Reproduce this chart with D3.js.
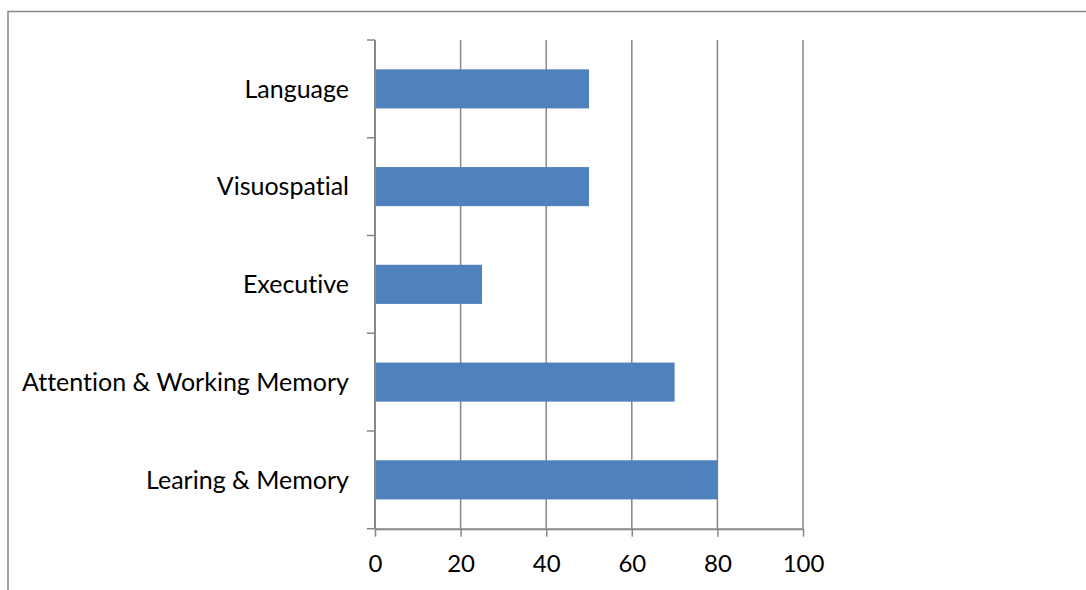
<!DOCTYPE html>
<html>
<head>
<meta charset="utf-8">
<script src="https://cdn.jsdelivr.net/npm/d3@7"></script>
<style>
  html, body { margin: 0; padding: 0; background: #fff; }
  svg { display: block; }
  text { font-family: Lato, "Open Sans", sans-serif; fill: #000; font-variant-ligatures: none; }
</style>
</head>
<body>
<script>
// Domain scores (bottom to top on the chart)
const categories = ["Learing & Memory", "Attention & Working Memory", "Executive", "Visuospatial", "Language"];
const values = [80, 70, 25, 50, 50];
const xTicks = [0, 20, 40, 60, 80, 100];

const W = 1086, H = 590;
const plot = { left: 375, right: 803, top: 40, bottom: 528.7 };
const gray = "#878787";

const svg = d3.select("body").append("svg")
  .attr("width", W).attr("height", H);

// chart frame (only its top and left edges fall inside the view)
svg.append("rect")
  .attr("x", 8).attr("y", 11.5)
  .attr("width", W + 20).attr("height", H + 20)
  .attr("fill", "none").attr("stroke", gray).attr("stroke-width", 1.5);

const x = d3.scaleLinear().domain([0, 100]).range([plot.left, plot.right]);
const y = d3.scaleBand()
  .domain(categories.slice().reverse())
  .range([plot.top, plot.bottom])
  .padding(0);

// vertical gridlines
svg.append("g").selectAll("line")
  .data(xTicks.slice(1))
  .join("line")
  .attr("x1", d => x(d)).attr("x2", d => x(d))
  .attr("y1", plot.top).attr("y2", plot.bottom)
  .attr("stroke", gray).attr("stroke-width", 1.5);

// bars: 40% of each category band, centred
const barFrac = 0.4;
svg.append("g").selectAll("rect")
  .data(categories.map((c, i) => ({ c, v: values[i] })))
  .join("rect")
  .attr("x", x(0))
  .attr("y", d => y(d.c) + y.bandwidth() * (1 - barFrac) / 2)
  .attr("width", d => x(d.v) - x(0))
  .attr("height", y.bandwidth() * barFrac)
  .attr("fill", "#4F81BD");

// x axis
const xAxis = svg.append("g")
  .attr("transform", `translate(0,${plot.bottom})`)
  .call(d3.axisBottom(x).tickValues(xTicks).tickSize(8).tickPadding(18).tickSizeOuter(0));
xAxis.select(".domain").attr("stroke", gray).attr("stroke-width", 2);
xAxis.selectAll(".tick line").attr("stroke", gray).attr("stroke-width", 1.5);
xAxis.selectAll(".tick text").attr("font-size", 24).attr("font-family", "Lato, sans-serif").attr("fill", "#000");

// y axis: ticks sit on the band boundaries
const bounds = y.domain().map(c => y(c)).concat([plot.bottom]);
const yAxis = svg.append("g");
yAxis.append("line")
  .attr("x1", plot.left).attr("x2", plot.left)
  .attr("y1", plot.top).attr("y2", plot.bottom)
  .attr("stroke", gray).attr("stroke-width", 2);
yAxis.selectAll("line.tk")
  .data(bounds)
  .join("line").attr("class", "tk")
  .attr("x1", plot.left - 8).attr("x2", plot.left)
  .attr("y1", d => d).attr("y2", d => d)
  .attr("stroke", gray).attr("stroke-width", 1.5);
yAxis.selectAll("text")
  .data(categories)
  .join("text")
  .attr("x", 349)
  .attr("y", d => y(d) + y.bandwidth() / 2)
  .attr("dy", "0.35em")
  .attr("text-anchor", "end")
  .attr("font-size", 25)
  .text(d => d);
</script>
</body>
</html>
